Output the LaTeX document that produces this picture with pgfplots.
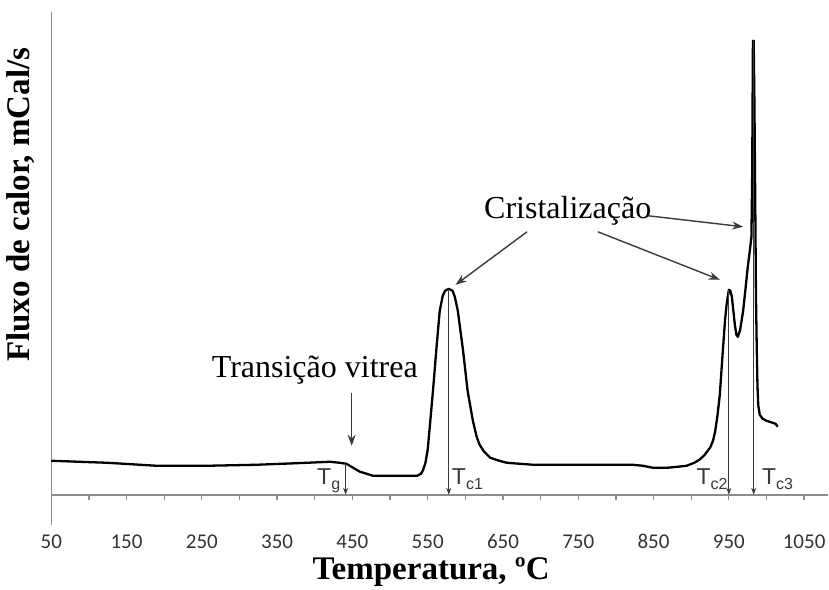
\documentclass[border=0pt]{standalone}
\usepackage{pgfplots}
\pgfplotsset{compat=1.18}
\usepackage{pgfplotstable}
\usetikzlibrary{arrows.meta}
\usepackage{fontspec}
\setmainfont{Liberation Serif}
\newfontfamily\calibri[Numbers={Lining,Monospaced}]{Carlito}
\newfontfamily\arialf{Liberation Sans}
\definecolor{axisgray}{HTML}{8C8C8C}
\definecolor{ticktext}{HTML}{333333}
\definecolor{arrowgray}{HTML}{3A3A3A}

% DSC curve: temperature (C) vs heat flow (arbitrary units)
\pgfplotstableread{
T y
50 34
124 32
190 29
257 29
323 30
390 32
420 33
433 32
442 31
451 27
460 23
469 21
477 19
500 19
520 19
536 19
541 21
544 25
547 32
550 45
553 70
557 104
562 150
566 184
570 199
573 204
578 206
583 204
586 198
590 184
597 144
603 104
610 74
615 58
619 50
625 43
633 37
645 34
655 32
690 30
752 30
822 30
836 29
849 27
868 27
882 28
894 29
904 32
911 35
918 40
925 47
929 54
932 64
935 80
938 100
942 144
945 175
947 190
950 205
952 204
954 198
956 184
958 170
960 160
962 158
965 165
969 184
972 205
975 227
978 245
980 258
981 320
982 454
983 454
984 390
985 300
986 200
987 150
988 110
989 90
991 80
995 76
1000 74
1008 72
1012 71
1015 68
}\dsc
\begin{document}
\begin{tikzpicture}
\begin{axis}[
  scale only axis, width=777pt, height=513pt,
  xmin=50, xmax=1082, ymin=-30, ymax=483,
  axis x line=middle, axis y line=left,
  axis line style={axisgray, line width=1.5pt, -},
  hide obscured x ticks=false,
  xtick={50,150,...,1050}, minor xtick={100,200,...,1000},
  ytick=\empty,
  tick align=outside, major tick length=5pt, minor tick length=5pt,
  tick style={axisgray, line width=1.3pt},
  /pgf/number format/assume math mode=true,
  /pgf/number format/set thousands separator={},
  xticklabel style={font=\calibri\fontsize{21}{24}\selectfont, text=ticktext,
    anchor=base, text height=14pt, text depth=0pt, yshift=-49pt},
  xlabel={Temperatura, ºC},
  xlabel style={font=\fontsize{33}{38}\selectfont\bfseries, at={(axis description cs:0.489,-0.092)}, anchor=center},
  ylabel={Fluxo de calor, mCal/s},
  ylabel style={font=\fontsize{33}{38}\selectfont\bfseries, at={(axis description cs:-0.039,0.624)}, anchor=center, rotate=0},
  clip=false,
]
% page extent
\path (axis description cs:-0.066,-0.125) rectangle (axis description cs:1.001,1.023);

\addplot[black, line width=2.3pt, line join=round] table[x=T, y=y] {\dsc};

% onset markers
\begin{scope}[arrowgray, line width=1.1pt, -{Stealth[length=7pt,width=5pt]}]
  \draw (axis cs:441,33) -- (axis cs:441,0);
  \draw (axis cs:578,206) -- (axis cs:578,0);
  \draw (axis cs:950,205) -- (axis cs:950,0);
  \draw (axis cs:983,454) -- (axis cs:983,0);
\end{scope}
\begin{scope}[font=\arialf\fontsize{23}{26}\selectfont, text=arrowgray, inner sep=0pt]
  \node[anchor=base west] at (axis cs:403,10) {T\raisebox{-5pt}{\fontsize{16}{18}\selectfont g}};
  \node[anchor=base west] at (axis cs:582,10) {T\raisebox{-5pt}{\fontsize{16}{18}\selectfont c1}};
  \node[anchor=base west] at (axis cs:907,10) {T\raisebox{-5pt}{\fontsize{16}{18}\selectfont c2}};
  \node[anchor=base west] at (axis cs:994,10) {T\raisebox{-5pt}{\fontsize{16}{18}\selectfont c3}};
\end{scope}

% annotations
\node[font=\fontsize{32}{38}\selectfont] at (axis cs:400,125) {Transição vitrea};
\node[font=\fontsize{32}{38}\selectfont] at (axis cs:736,284) {Cristalização};
\begin{scope}[arrowgray, line width=1.4pt, -{Stealth[length=11pt,width=8pt]}]
  \draw (axis cs:449,102) -- (axis cs:449,49);
  \draw (axis cs:682,263) -- (axis cs:587,210);
  \draw (axis cs:776,263) -- (axis cs:938,215);
  \draw (axis cs:843,279) -- (axis cs:969,268);
\end{scope}
\end{axis}
\end{tikzpicture}
\end{document}
